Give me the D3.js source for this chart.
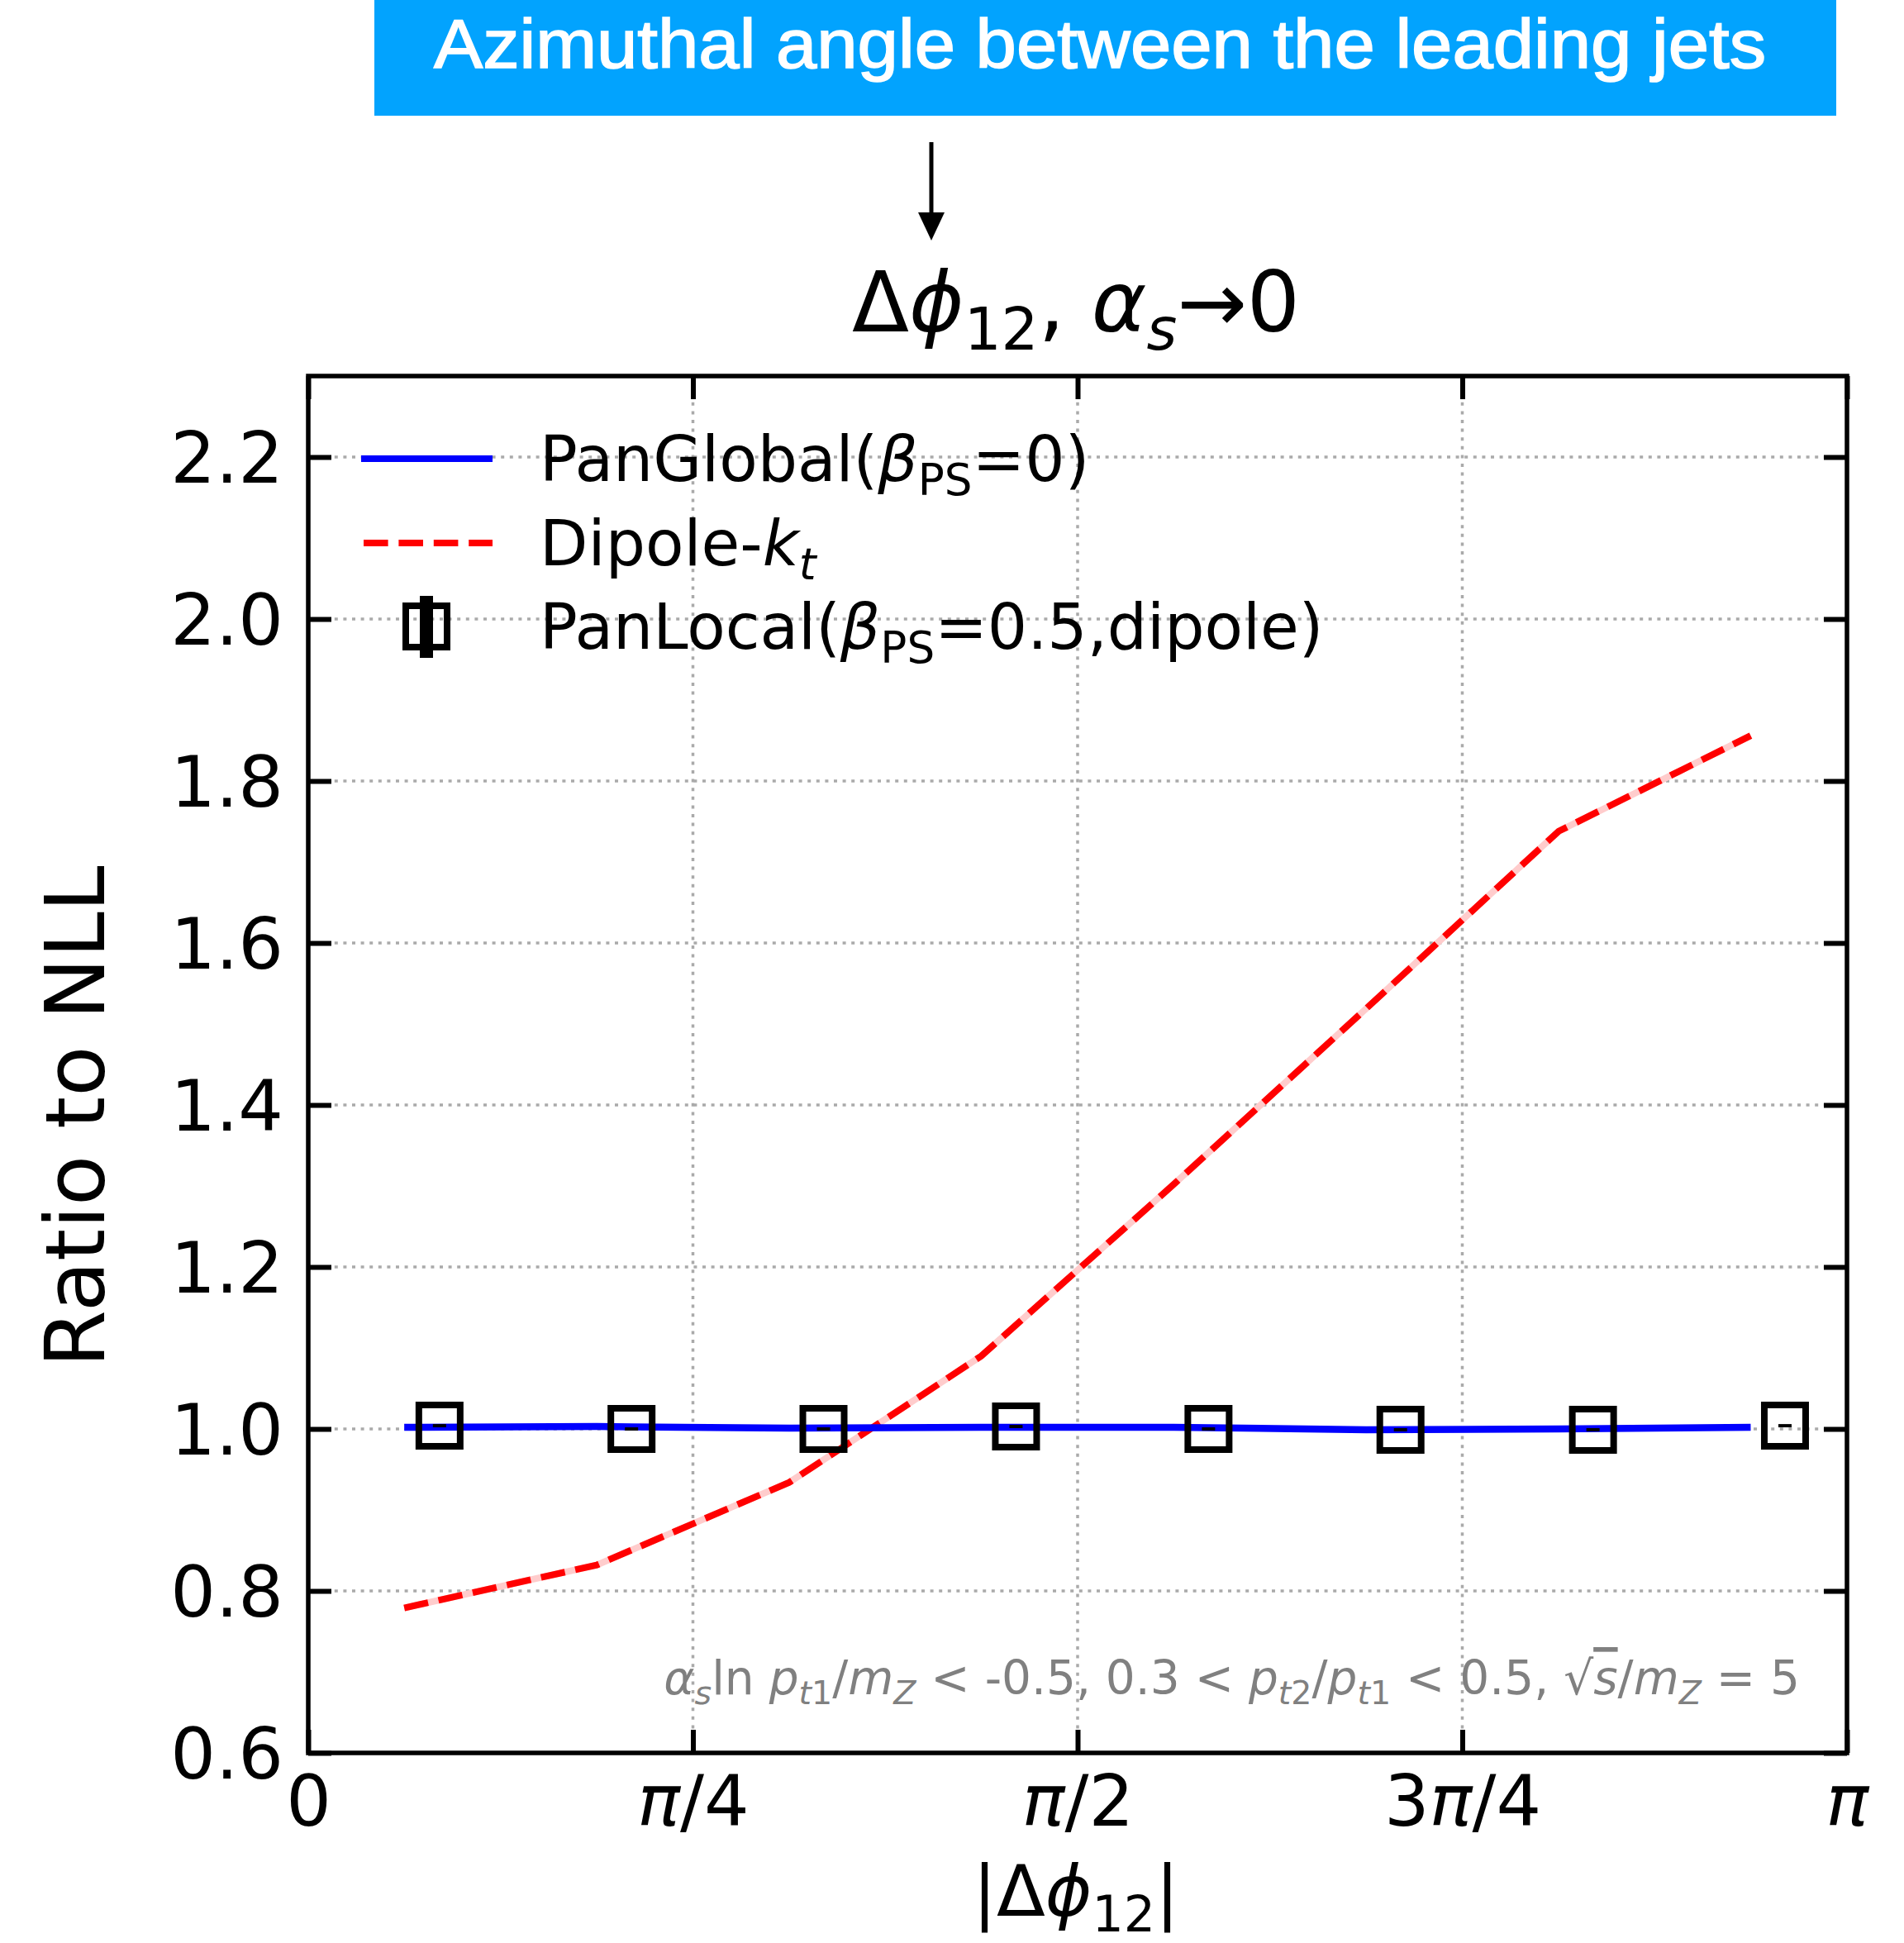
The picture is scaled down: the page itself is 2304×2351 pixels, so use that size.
<!DOCTYPE html>
<html><head><meta charset="utf-8">
<script src="https://cdn.jsdelivr.net/npm/d3@7"></script>
<style>html,body{margin:0;padding:0;background:#fff;} svg{display:block;}</style>
</head><body>
<script>
// ---------------- data ----------------
const xTickValues = [0, Math.PI / 4, Math.PI / 2, 3 * Math.PI / 4, Math.PI];
const xTickLabels = ["0", "π/4", "π/2", "3π/4", "π"];
const yTickValues = [0.6, 0.8, 1.0, 1.2, 1.4, 1.6, 1.8, 2.0, 2.2];
const yTickLabels = ["0.6", "0.8", "1.0", "1.2", "1.4", "1.6", "1.8", "2.0", "2.2"];
const lineX = [0.196, 0.589, 0.982, 1.374, 1.767, 2.160, 2.553, 2.945];
const panGlobal = [1.002, 1.003, 1.001, 1.002, 1.002, 0.999, 1.000, 1.002];
const dipoleKt = [0.779, 0.832, 0.934, 1.090, 1.302, 1.519, 1.738, 1.856];
const panLocalX = [0.268, 0.660, 1.052, 1.445, 1.838, 2.230, 2.623, 3.015];
const panLocal = [1.004, 1.000, 1.000, 1.003, 1.000, 0.999, 0.999, 1.004];
const panLocalErr = [0.002, 0.002, 0.002, 0.002, 0.002, 0.002, 0.002, 0.002];
const bannerText = "Azimuthal angle between the leading jets";

// ---------------- layout ----------------
const W = 2304, H = 2351;
const L = 373, R = 2235, T = 455, B = 2121;
const FONT = "'DejaVu Sans', sans-serif";

const svg = d3.select("body").append("svg").attr("width", W).attr("height", H)
  .style("font-family", FONT);

const x = d3.scaleLinear().domain([0, Math.PI]).range([L, R]);
const y = d3.scaleLinear().domain([0.6, 2.3]).range([B, T]);

// rich text helper (mathtext-like)
function rich(textSel, parts, fs) {
  let shift = 0;
  parts.forEach(p => {
    const target = p.sub ? 0.22 * fs : 0;
    const ts = textSel.append("tspan").text(p.t)
      .attr("font-size", p.sub ? fs * 0.7 : fs)
      .attr("font-style", p.i ? "italic" : "normal");
    if (target !== shift) ts.attr("dy", target - shift);
    if (p.o) ts.style("text-decoration", "overline");
    shift = target;
  });
}

// ---------------- banner ----------------
svg.append("rect").attr("x", 453).attr("y", 0).attr("width", 1769).attr("height", 140)
  .attr("fill", "#02a3fe");
svg.append("text").attr("x", 1331).attr("y", 82).attr("text-anchor", "middle")
  .attr("fill", "#fff").attr("stroke", "#fff").attr("stroke-width", 1.6)
  .attr("font-family", "'Liberation Sans', Arial, sans-serif").attr("font-size", 84)
  .attr("textLength", 1612).attr("lengthAdjust", "spacingAndGlyphs").text(bannerText);

// arrow
svg.append("line").attr("x1", 1127).attr("x2", 1127).attr("y1", 172).attr("y2", 260)
  .attr("stroke", "#000").attr("stroke-width", 5);
svg.append("path").attr("d", "M1111,257 L1143,257 L1127,291 Z").attr("fill", "#000");

// ---------------- title ----------------
const title = svg.append("text").attr("x", 1302).attr("y", 401).attr("text-anchor", "middle")
  .attr("font-size", 101);
rich(title, [{t: "Δ"}, {t: "ϕ", i: true}, {t: "12", sub: true}, {t: ", "}, {t: "α", i: true},
  {t: "s", sub: true, i: true}, {t: "→0"}], 101);

// ---------------- grid ----------------
const grid = svg.append("g");
grid.selectAll("line.gx").data(xTickValues.slice(1, -1)).join("line")
  .attr("x1", d => x(d)).attr("x2", d => x(d)).attr("y1", T).attr("y2", B)
  .attr("stroke", "#aaaaaa").attr("stroke-width", 3.5).attr("stroke-dasharray", "4,6.6");
grid.selectAll("line.gy").data(yTickValues.slice(1)).join("line")
  .attr("y1", d => y(d)).attr("y2", d => y(d)).attr("x1", L).attr("x2", R)
  .attr("stroke", "#aaaaaa").attr("stroke-width", 3.5).attr("stroke-dasharray", "4,6.6");

// ---------------- axes ----------------
const TICK = 28;
const axB = svg.append("g").attr("transform", `translate(0,${B})`)
  .call(d3.axisBottom(x).tickValues(xTickValues).tickSizeInner(-TICK).tickSizeOuter(0).tickPadding(27)
    .tickFormat((d, i) => ""));
const axT = svg.append("g").attr("transform", `translate(0,${T})`)
  .call(d3.axisTop(x).tickValues(xTickValues).tickSizeInner(-TICK).tickSizeOuter(0).tickFormat(""));
const axL = svg.append("g").attr("transform", `translate(${L},0)`)
  .call(d3.axisLeft(y).tickValues(yTickValues).tickSizeInner(-TICK).tickSizeOuter(0).tickPadding(30)
    .tickFormat((d, i) => yTickLabels[i]));
const axR = svg.append("g").attr("transform", `translate(${R},0)`)
  .call(d3.axisRight(y).tickValues(yTickValues).tickSizeInner(-TICK).tickSizeOuter(0).tickFormat(""));
[axB, axT, axL, axR].forEach(a => {
  a.select(".domain").remove();
  a.selectAll(".tick line").attr("stroke", "#000").attr("stroke-width", 6);
  a.selectAll(".tick text").attr("font-family", FONT).attr("font-size", 86).attr("fill", "#000");
});
axL.selectAll(".tick text").attr("dy", "0.36em");
axB.selectAll(".tick text").each(function (d, i) {
  const t = d3.select(this);
  const parts = [];
  for (const ch of xTickLabels[i]) parts.push({t: ch, i: ch === "π"});
  rich(t, parts, 86);
});

// ---------------- series ----------------
const plot = svg.append("g");
const lineGen = d3.line().x(d => x(d[0])).y(d => y(d[1]));
const dipData = lineX.map((v, i) => [v, dipoleKt[i]]);
plot.append("path").attr("d", lineGen(dipData)).attr("fill", "none")
  .attr("stroke", "#ffcccc").attr("stroke-width", 8);
plot.append("path").attr("d", lineGen(dipData)).attr("fill", "none")
  .attr("stroke", "#ff0000").attr("stroke-width", 8).attr("stroke-dasharray", "29.6,12.8");
plot.append("path").attr("d", lineGen(lineX.map((v, i) => [v, panGlobal[i]]))).attr("fill", "none")
  .attr("stroke", "#0000ff").attr("stroke-width", 8.5);

const sq = d3.symbol().type(d3.symbolSquare).size(2500);
const pl = plot.selectAll("g.pl").data(panLocalX.map((v, i) => ({x: v, y: panLocal[i], e: panLocalErr[i]})))
  .join("g").attr("class", "pl");
pl.append("rect").attr("x", d => x(d.x) - 8).attr("width", 16)
  .attr("y", d => y(d.y + d.e)).attr("height", d => y(d.y - d.e) - y(d.y + d.e)).attr("fill", "#000");
pl.append("path").attr("d", sq).attr("transform", d => `translate(${x(d.x)},${y(d.y)})`)
  .attr("fill", "none").attr("stroke", "#000").attr("stroke-width", 8);

// frame
svg.append("rect").attr("x", L).attr("y", T).attr("width", R - L).attr("height", B - T)
  .attr("fill", "none").attr("stroke", "#000").attr("stroke-width", 5.5);

// ---------------- legend ----------------
const LFS = 76;
const leg = svg.append("g");
leg.append("line").attr("x1", 437).attr("x2", 596).attr("y1", 555).attr("y2", 555)
  .attr("stroke", "#0000ff").attr("stroke-width", 8);
leg.append("line").attr("x1", 440).attr("x2", 596).attr("y1", 657).attr("y2", 657)
  .attr("stroke", "#ff0000").attr("stroke-width", 8).attr("stroke-dasharray", "29.6,12.8");
leg.append("rect").attr("x", 508).attr("y", 721).attr("width", 16).attr("height", 75).attr("fill", "#000");
leg.append("path").attr("d", sq).attr("transform", "translate(516,758)")
  .attr("fill", "none").attr("stroke", "#000").attr("stroke-width", 8);
const l1 = leg.append("text").attr("x", 653).attr("y", 582);
rich(l1, [{t: "PanGlobal("}, {t: "β", i: true}, {t: "PS", sub: true}, {t: "=0)"}], LFS);
const l2 = leg.append("text").attr("x", 653).attr("y", 684);
rich(l2, [{t: "Dipole-"}, {t: "k", i: true}, {t: "t", sub: true, i: true}], LFS);
const l3 = leg.append("text").attr("x", 653).attr("y", 785);
rich(l3, [{t: "PanLocal("}, {t: "β", i: true}, {t: "PS", sub: true}, {t: "=0.5,dipole)"}], LFS);

// ---------------- annotation ----------------
const AFS = 56.5;
const ann = svg.append("text").attr("x", 2178).attr("y", 2050).attr("text-anchor", "end")
  .attr("fill", "#808080");
rich(ann, [{t: "α", i: true}, {t: "s", sub: true, i: true}, {t: "ln"}, {t: " "}, {t: "p", i: true},
  {t: "t", sub: true, i: true}, {t: "1", sub: true}, {t: "/"}, {t: "m", i: true}, {t: "Z", sub: true, i: true},
  {t: " < -0.5, 0.3 < "}, {t: "p", i: true}, {t: "t", sub: true, i: true}, {t: "2", sub: true},
  {t: "/"}, {t: "p", i: true}, {t: "t", sub: true, i: true}, {t: "1", sub: true}, {t: " < 0.5, √"},
  {t: "s", i: true, o: true}, {t: "/"}, {t: "m", i: true}, {t: "Z", sub: true, i: true}, {t: " = 5"}], AFS);

// ---------------- axis labels ----------------
svg.append("text").attr("transform", "translate(126,1351) rotate(-90)")
  .attr("text-anchor", "middle").attr("font-size", 100).text("Ratio to NLL");
const xl = svg.append("text").attr("x", 1302).attr("y", 2318).attr("text-anchor", "middle");
rich(xl, [{t: "|Δ"}, {t: "ϕ", i: true}, {t: "12", sub: true}, {t: "|"}], 86);
</script>
</body></html>
